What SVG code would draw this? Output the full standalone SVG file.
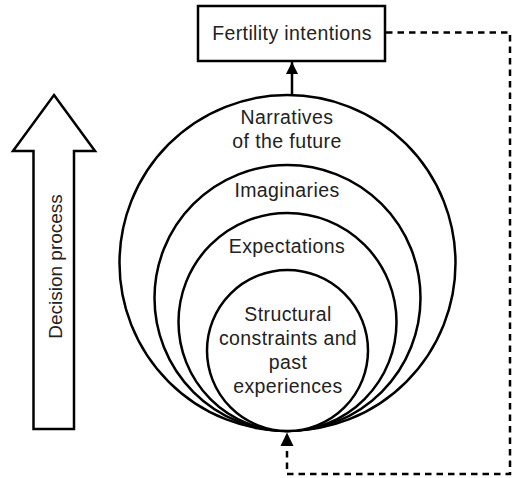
<svg xmlns="http://www.w3.org/2000/svg" width="513" height="478" viewBox="0 0 513 478">
<style>
.s{fill:none;stroke:#000;stroke-width:2.5}
.w{fill:#fff;stroke:#000;stroke-width:2.5}
.t{font-family:"Liberation Sans",Arial,sans-serif;font-size:19.5px;letter-spacing:0.4px;fill:#222;text-anchor:middle}
.d{fill:none;stroke:#000;stroke-width:2.5;stroke-dasharray:6.5 5}
</style>
<defs>
<marker id="ah" viewBox="0 0 12 12" refX="12" refY="6" markerWidth="12" markerHeight="12" markerUnits="userSpaceOnUse" orient="auto">
<path d="M0,0 L12,6 L0,12 Z" fill="#000"/>
</marker>
</defs>
<rect width="513" height="478" fill="#fff"/>
<g id="decision-process">
<polygon class="w" points="54,95 95,151 74,151 74,429 33.5,429 33.5,151 13,151"/>
<text class="t" style="font-size:19px;letter-spacing:0" transform="translate(61.5,266.5) rotate(-90)">Decision process</text>
</g>
<g id="narratives">
<circle class="w" cx="287.5" cy="263" r="168"/>
<text class="t" x="287" y="124">Narratives</text>
<text class="t" x="287" y="148">of the future</text>
</g>
<g id="imaginaries">
<circle class="w" cx="287.5" cy="298" r="133"/>
<text class="t" x="287" y="197">Imaginaries</text>
</g>
<g id="expectations">
<circle class="w" cx="287.5" cy="322" r="109"/>
<text class="t" x="287" y="253">Expectations</text>
</g>
<g id="structural">
<circle class="w" cx="287.5" cy="350.5" r="80.5"/>
<text class="t" x="288" y="321">Structural</text>
<text class="t" x="288" y="345">constraints and</text>
<text class="t" x="288" y="369">past</text>
<text class="t" x="288" y="393">experiences</text>
</g>
<g id="fertility-intentions">
<rect class="w" x="198" y="6" width="187" height="55"/>
<text class="t" x="292" y="39.5">Fertility intentions</text>
</g>
<g id="connectors">
<line class="s" x1="292" y1="95" x2="292" y2="62" marker-end="url(#ah)"/>
<path class="d" d="M386,32.5 H510 V474 H287 V446"/>
<path d="M280.5,446 L293.5,446 L287,432.5 Z" fill="#000"/>
</g>
</svg>
